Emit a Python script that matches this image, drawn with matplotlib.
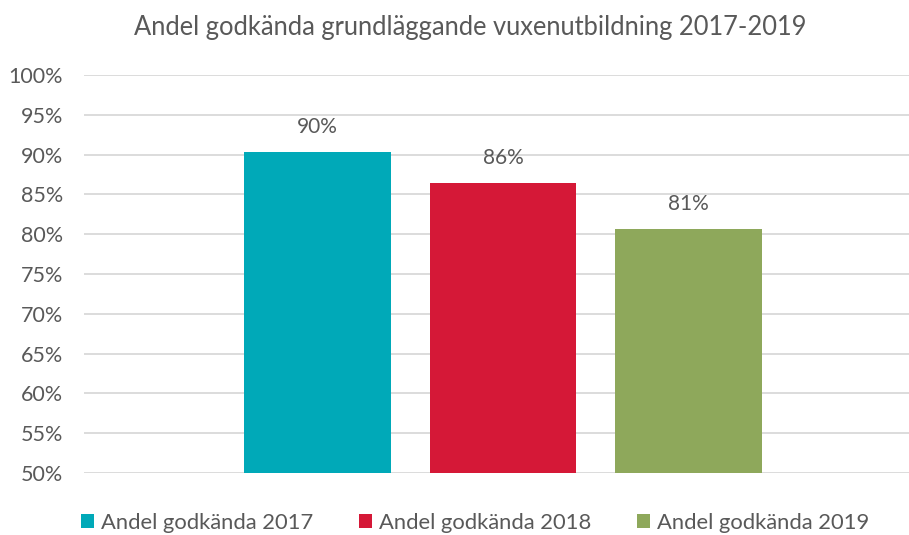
import matplotlib
matplotlib.use("Agg")
import matplotlib.pyplot as plt
from matplotlib.patches import Patch

series = ["Andel godkända 2017", "Andel godkända 2018", "Andel godkända 2019"]
values = [0.903, 0.864, 0.806]
labels = ["90%", "86%", "81%"]
colors = ["#00A9B8", "#D51837", "#8EA85B"]
yticks = [0.50, 0.55, 0.60, 0.65, 0.70, 0.75, 0.80, 0.85, 0.90, 0.95, 1.00]
title = "Andel godkända grundläggande vuxenutbildning 2017-2019"

plt.rcParams['font.family'] = ['Lato', 'DejaVu Sans']
txt = "#595959"

W, H = 909, 535
fig = plt.figure(figsize=(W / 100, H / 100), dpi=100)
left, right, top, bottom = 84, 922, 75, 473
ax = fig.add_axes([left / W, 1 - bottom / H, (right - left) / W, (bottom - top) / H])

pos = [-1, 0, 1]
bars = ax.bar(pos, [v - 0.5 for v in values], bottom=0.5, width=0.79, color=colors, zorder=3)
for p, v, l in zip(pos, values, labels):
    ax.annotate(l, (p, v), xytext=(0, 11), textcoords="offset points",
                ha="center", va="bottom", fontsize=15, color=txt)

ax.set_xlim(-2.255, 2.255)
ax.set_ylim(0.5, 1.0)
ax.set_yticks(yticks)
ax.set_yticklabels([f"{int(round(t*100))}%" for t in yticks], fontsize=15.5, color=txt)
ax.set_xticks([])
ax.tick_params(axis="y", length=0, pad=15)
ax.grid(axis="y", color="#D9D9D9", linewidth=1.3, zorder=0)
for s in ax.spines.values():
    s.set_visible(False)

fig.text(470 / W, 1 - 27 / H, title, ha="center", va="center", fontsize=18.4, color=txt)

handles = [Patch(facecolor=c) for c in colors]
fig.legend(handles, series, loc="center", bbox_to_anchor=(475 / W, 1 - 523 / H), ncol=3,
           frameon=False, fontsize=15.8, labelcolor=txt, handlelength=0.6, handleheight=0.6,
           handletextpad=0.3, columnspacing=2.1)

fig.savefig("out.png", dpi=100)
